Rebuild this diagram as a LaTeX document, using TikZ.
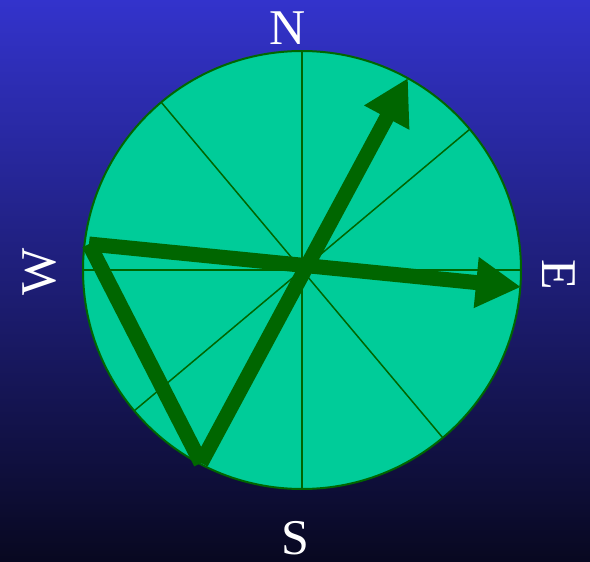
\documentclass[tikz,border=0pt]{standalone}
\usepackage{fontspec}
\setmainfont{Liberation Serif}
\usetikzlibrary{arrows.meta}
\definecolor{bgtop}{RGB}{51,51,204}
\definecolor{bgbot}{RGB}{8,8,32}
\definecolor{disc}{RGB}{0,204,153}
\definecolor{dkgreen}{RGB}{0,102,0}
\tikzset{
  spoke/.style={draw=dkgreen, line width=1.5pt},
  vec/.style={draw=dkgreen, line width=15pt, line cap=butt},
  vecarrow/.style={vec, -{Triangle[length=45pt,width=48pt]}},
  compass/.style={text=white, font=\fontsize{50}{50}\selectfont, inner sep=0pt}
}
\begin{document}
\begin{tikzpicture}[x=1pt,y=-1pt]
\shade[top color=bgtop, bottom color=bgbot] (0,0) rectangle (590,562);
\useasboundingbox (0,0) rectangle (590,562);
\coordinate (c) at (302,270);
\fill[disc] (c) circle (219);
\foreach \a in {0,40,90,130,180,220,270,310}
  \draw[spoke] (c) -- ++({219*cos(\a)},{-219*sin(\a)});
\draw[dkgreen, line width=2pt] (c) circle (219);
\coordinate (pw) at (89,244);
\coordinate (ps) at (201,463);
\coordinate (tn) at (408,78);
\coordinate (te) at (521,287);
\draw[vec] (pw) -- (ps);
\draw[vecarrow] (pw) -- (te);
\draw[vecarrow] (ps) -- (tn);
\node[compass] (n) at (288,28) {N};
\node[compass] (s) at (295,538) {S};
\node[compass, rotate=90] (w) at (40,272) {W};
\node[compass, rotate=-90] (e) at (559,275) {E};
\end{tikzpicture}
\end{document}
